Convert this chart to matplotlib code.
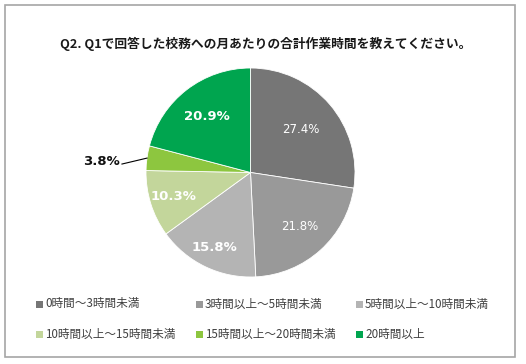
import matplotlib
matplotlib.use("Agg")
import numpy as np
import matplotlib.pyplot as plt
from matplotlib.patches import Rectangle

title = "Q2. Q1で回答した校務への月あたりの合計作業時間を教えてください。"
categories = ["0時間～3時間未満", "3時間以上～5時間未満", "5時間以上～10時間未満",
              "10時間以上～15時間未満", "15時間以上～20時間未満", "20時間以上"]
shares = [27.4, 21.8, 15.8, 10.3, 3.8, 20.9]

colors = ["#767676", "#999999", "#b4b4b4", "#c3d69b", "#8dc63f", "#00a54f"]
label_bold = [False, False, True, True, True, True]
label_r = [0.63, 0.70, 0.80, 0.77, None, 0.68]

W, H = 526, 364
fig = plt.figure(figsize=(W / 100, H / 100), dpi=100)
fig.patch.set_facecolor("white")

jp = ["Noto Sans CJK JP", "DejaVu Sans"]

# outer frame
fig.patches.append(Rectangle((5 / W, 7 / H), 510 / W, 352 / H, transform=fig.transFigure,
                             fill=False, edgecolor="#a6a6a6", linewidth=1.2))

fig.text(266 / W, 1 - 44 / H, title, ha="center", va="center", fontsize=9.2,
         fontweight="bold", family=jp, color="#1a1a1a")

# pie
cx, cy, r = 250.5, 172.5, 104.5
ax = fig.add_axes([(cx - r) / W, (H - cy - r) / H, 2 * r / W, 2 * r / H])
wedges, _ = ax.pie(shares, colors=colors, startangle=90, counterclock=False,
                   wedgeprops=dict(edgecolor="white", linewidth=0.6))
ax.set_xlim(-1, 1)
ax.set_ylim(-1, 1)
ax.set_aspect("equal")
ax.axis("off")

for w, v, b, lr in zip(wedges, shares, label_bold, label_r):
    ang = np.deg2rad((w.theta1 + w.theta2) / 2)
    x, y = np.cos(ang), np.sin(ang)
    txt = f"{v:.1f}%"
    if lr is None:
        ax.plot([x, -1.23], [y, 0.081], color="black", linewidth=0.8, clip_on=False)
        ax.text(-1.25, 0.11, txt, ha="right", va="center", fontsize=9.5,
                fontweight="bold", color="#111111", clip_on=False)
    else:
        ax.text(lr * x, lr * y, txt, ha="center", va="center",
                fontsize=9.5 if b else 8.5, fontweight="bold" if b else "normal",
                color="white")

# legend, laid out in rows of three
col_x = [36, 196, 356]
row_y = [304, 334]
for i, (lab, c) in enumerate(zip(categories, colors)):
    x0 = col_x[i % 3]
    y0 = row_y[i // 3]
    fig.patches.append(Rectangle((x0 / W, (H - y0 - 3.5) / H), 6.5 / W, 6.5 / H,
                                 transform=fig.transFigure, facecolor=c, edgecolor="none"))
    fig.text((x0 + 9) / W, 1 - y0 / H, lab, ha="left", va="center", fontsize=8.4,
             family=jp, color="#404040")

fig.savefig("out.png", dpi=100, facecolor="white")
